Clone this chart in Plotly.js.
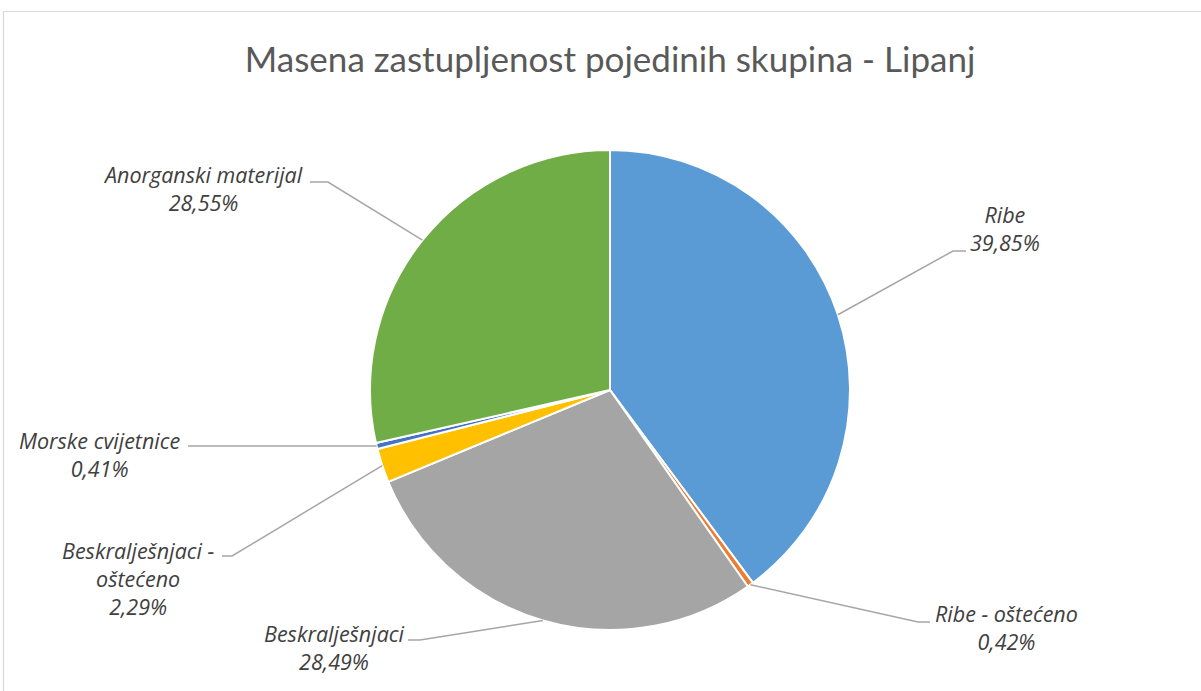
<!DOCTYPE html>
<html>
<head>
<meta charset="utf-8">
<script src="https://cdn.plot.ly/plotly-3.0.1.min.js"></script>
<style>html,body{margin:0;padding:0;background:#fff;}#chart{width:1201px;height:691px;}</style>
</head>
<body>
<div id="chart"></div>
<script>
// ---- data ----
const categories = ["Ribe", "Ribe - oštećeno", "Beskralješnjaci", "Beskralješnjaci - oštećeno", "Morske cvijetnice", "Anorganski materijal"];
const labelLines = ["Ribe", "Ribe - oštećeno", "Beskralješnjaci", "Beskralješnjaci -<br>oštećeno", "Morske cvijetnice", "Anorganski materijal"];
const values = [39.85, 0.42, 28.49, 2.29, 0.41, 28.55];
const percentLabels = ["39,85%", "0,42%", "28,49%", "2,29%", "0,41%", "28,55%"];
const colors = ["#5B9BD5", "#ED7D31", "#A5A5A5", "#FFC000", "#4472C4", "#70AD47"];

// ---- layout geometry (pixels) ----
const W = 1201, H = 691;
const cx = 610, cy = 390, R = 240;
// elbow point of each leader line and label anchor (layout only)
const elbows = [[953, 251], [918, 622], [420, 640], [232, 556], [192, 446], [328, 182]];
const elbowEnds = [[966, 251], [930, 622], [408, 640], [222, 556], [188, 446], [310, 182]];
const labelPos = [[1005, 228], [1006, 627], [334, 647], [138, 578], [100, 454], [203, 188]];

const total = values.reduce((a, b) => a + b, 0);
let cum = 0;
const shapes = [];
const annotations = [];
values.forEach((v, i) => {
  const mid = (cum + v / 2) / total * 2 * Math.PI; // clockwise from top
  cum += v;
  const ex = cx + R * Math.sin(mid);
  const ey = cy - R * Math.cos(mid);
  const [bx, by] = elbows[i];
  const [fx, fy] = elbowEnds[i];
  shapes.push({type: 'path', xref: 'x', yref: 'y',
    path: `M ${ex} ${ey} L ${bx} ${by} L ${fx} ${fy}`,
    line: {color: '#A6A6A6', width: 1.5}});
  const [lx, ly] = labelPos[i];
  annotations.push({xref: 'x', yref: 'y', x: lx, y: ly, showarrow: false,
    text: '<i>' + labelLines[i] + '<br>' + percentLabels[i] + '</i>',
    align: 'center', xanchor: 'center', yanchor: 'middle',
    font: {family: '"Open Sans", sans-serif', size: 21.5, color: '#404040'}});
});
// chart frame
shapes.push({type: 'rect', xref: 'x', yref: 'y', x0: 3.5, y0: 11.5, x1: 1215, y1: 705,
  line: {color: '#D9D9D9', width: 1.2}, layer: 'below'});

const trace = {
  type: 'pie',
  labels: categories,
  values: values,
  sort: false,
  direction: 'clockwise',
  rotation: 0,
  textinfo: 'none',
  hoverinfo: 'skip',
  marker: {colors: colors, line: {color: '#FFFFFF', width: 2}},
  domain: {x: [(cx - R) / W, (cx + R) / W], y: [(H - cy - R) / H, (H - cy + R) / H]},
  showlegend: false
};

const layout = {
  width: W, height: H,
  margin: {l: 0, r: 0, t: 0, b: 0},
  paper_bgcolor: '#FFFFFF', plot_bgcolor: 'rgba(0,0,0,0)',
  title: {text: 'Masena zastupljenost pojedinih skupina - Lipanj', x: 0.508, xanchor: 'center',
    y: 1 - 60 / H, yanchor: 'middle',
    font: {family: 'Lato, "Open Sans", sans-serif', size: 35, color: '#595959'}},
  xaxis: {range: [0, W], visible: false, fixedrange: true, domain: [0, 1]},
  yaxis: {range: [H, 0], visible: false, fixedrange: true, domain: [0, 1]},
  shapes: shapes,
  annotations: annotations,
  showlegend: false
};

Plotly.newPlot('chart', [trace], layout, {displayModeBar: false, staticPlot: true});
</script>
</body>
</html>
